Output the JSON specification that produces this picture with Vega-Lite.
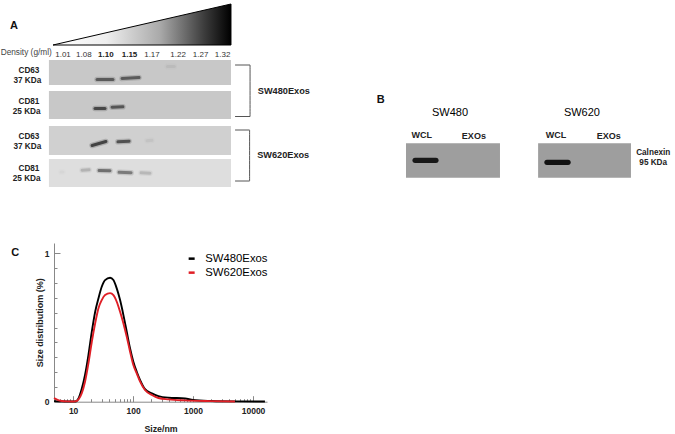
{
"$schema":"https://vega.github.io/schema/vega-lite/v6.json",
"width":675,"height":434,"padding":0,"autosize":{"type":"none"},"background":"white",
"config":{"view":{"stroke":null},"font":"Liberation Sans"},
"datasets":{
"blots":[
{"blot":"SW480 CD63","pos":0.38,"pos2":8.4,"track":0,"track2":2.5,"level":0.2},
{"blot":"SW480 CD81","pos":0.38,"pos2":8.4,"track":3.1,"track2":5.9,"level":0.2},
{"blot":"SW620 CD63","pos":0.38,"pos2":8.4,"track":6.6,"track2":9.5,"level":0.17},
{"blot":"SW620 CD81","pos":0.38,"pos2":8.4,"track":9.9,"track2":12.7,"level":0.12},
{"blot":"SW480 Calnexin","pos":16.11,"pos2":20.25,"track":8.33,"track2":11.77,"level":0.36},
{"blot":"SW620 Calnexin","pos":21.93,"pos2":26.02,"track":8.33,"track2":11.77,"level":0.36}
],
"bands":[
{"band":"a1","pos":2.5,"track":1.95,"level":0.64,"seq":1},{"band":"a1","pos":3.2,"track":1.95,"level":0.64,"seq":2},
{"band":"a2","pos":3.6,"track":1.85,"level":0.64,"seq":1},{"band":"a2","pos":4.35,"track":1.75,"level":0.64,"seq":2},
{"band":"a3","pos":5.6,"track":0.65,"level":0.25,"seq":1},{"band":"a3","pos":5.9,"track":0.65,"level":0.25,"seq":2},
{"band":"b1","pos":2.41,"track":4.85,"level":0.72,"seq":1},{"band":"b1","pos":2.85,"track":4.85,"level":0.72,"seq":2},
{"band":"b2","pos":3.16,"track":4.72,"level":0.66,"seq":1},{"band":"b2","pos":3.64,"track":4.68,"level":0.66,"seq":2},
{"band":"c1","pos":2.28,"track":8.55,"level":0.74,"seq":1},{"band":"c1","pos":2.89,"track":8.15,"level":0.74,"seq":2},
{"band":"c2","pos":3.42,"track":8.18,"level":0.68,"seq":1},{"band":"c2","pos":3.91,"track":8.12,"level":0.68,"seq":2},
{"band":"c3","pos":4.7,"track":8.08,"level":0.22,"seq":1},{"band":"c3","pos":4.92,"track":8.03,"level":0.22,"seq":2},
{"band":"d1","pos":0.91,"track":11.2,"level":0.15,"seq":1},{"band":"d1","pos":1.0,"track":11.2,"level":0.15,"seq":2},
{"band":"d2","pos":1.84,"track":11.02,"level":0.28,"seq":1},{"band":"d2","pos":2.15,"track":10.98,"level":0.28,"seq":2},
{"band":"d3","pos":2.59,"track":11.05,"level":0.55,"seq":1},{"band":"d3","pos":3.07,"track":11.08,"level":0.55,"seq":2},
{"band":"d4","pos":3.47,"track":11.22,"level":0.5,"seq":1},{"band":"d4","pos":4.0,"track":11.28,"level":0.5,"seq":2},
{"band":"d5","pos":4.44,"track":11.28,"level":0.26,"seq":1},{"band":"d5","pos":4.83,"track":11.32,"level":0.26,"seq":2}
],
"bandsB":[
{"band":"e1","pos":16.51,"track":10.03,"level":0.95,"seq":1},{"band":"e1","pos":17.43,"track":10.03,"level":0.95,"seq":2},
{"band":"e2","pos":22.32,"track":10.23,"level":0.98,"seq":1},{"band":"e2","pos":23.25,"track":10.23,"level":0.98,"seq":2}
],
"wedge":[{"pos":0.56,"track":-1.5,"track2":-1.5},{"pos":8.4,"track":-5.6,"track2":-1.5}],
"brackets":[
{"group":"SW480","pos":8.58,"track":0.5,"seq":1},{"group":"SW480","pos":9.24,"track":0.5,"seq":2},{"group":"SW480","pos":9.24,"track":5.65,"seq":3},{"group":"SW480","pos":8.58,"track":5.65,"seq":4},
{"group":"SW620","pos":8.58,"track":7.0,"seq":1},{"group":"SW620","pos":9.22,"track":7.0,"seq":2},{"group":"SW620","pos":9.22,"track":12.1,"seq":3},{"group":"SW620","pos":8.58,"track":12.1,"seq":4}
],
"labels":[
{"kind":"density","t":"1.01","pos":1.0,"track":-0.5},{"kind":"density","t":"1.08","pos":1.92,"track":-0.5},
{"kind":"densityBold","t":"1.10","pos":2.89,"track":-0.5},{"kind":"densityBold","t":"1.15","pos":3.93,"track":-0.5},
{"kind":"density","t":"1.17","pos":4.92,"track":-0.5},{"kind":"density","t":"1.22","pos":6.07,"track":-0.5},
{"kind":"density","t":"1.27","pos":7.06,"track":-0.5},{"kind":"density","t":"1.32","pos":8.03,"track":-0.5},
{"kind":"axisName","t":"Density (g/ml)","pos":-0.62,"track":-0.7},
{"kind":"protein","t":"CD63","pos":-0.5,"track":1.1},{"kind":"protein","t":"37 KDa","pos":-0.57,"track":2.1},
{"kind":"protein","t":"CD81","pos":-0.5,"track":4.2},{"kind":"protein","t":"25 KDa","pos":-0.6,"track":5.2},
{"kind":"protein","t":"CD63","pos":-0.5,"track":7.7},{"kind":"protein","t":"37 KDa","pos":-0.57,"track":8.7},
{"kind":"protein","t":"CD81","pos":-0.5,"track":10.9},{"kind":"protein","t":"25 KDa","pos":-0.6,"track":11.9},
{"kind":"protein","t":"Calnexin","pos":27.0,"track":9.27},{"kind":"protein","t":"95 KDa","pos":27.0,"track":10.27},
{"kind":"series","t":"SW480Exos","pos":10.73,"track":3.1},{"kind":"series","t":"SW620Exos","pos":10.7,"track":9.5},
{"kind":"letter","t":"A","pos":-1.16,"track":-3.4},{"kind":"letter","t":"B","pos":15.0,"track":4.0},{"kind":"letter","t":"C","pos":-1.11,"track":19.3},
{"kind":"cell","t":"SW480","pos":18.05,"track":5.25},{"kind":"cell","t":"SW620","pos":23.86,"track":5.25},
{"kind":"lane","t":"WCL","pos":16.8,"track":7.5},{"kind":"lane","t":"EXOs","pos":19.1,"track":7.6},
{"kind":"lane","t":"WCL","pos":22.72,"track":7.5},{"kind":"lane","t":"EXOs","pos":25.04,"track":7.6}
],
"nta":[
{"s":"SW480Exos","size":4.8,"v":0.004},{"s":"SW480Exos","size":8,"v":0.001},{"s":"SW480Exos","size":10.8,"v":0.001},{"s":"SW480Exos","size":12.3,"v":0.022},{"s":"SW480Exos","size":13.9,"v":0.085},{"s":"SW480Exos","size":15.8,"v":0.18},{"s":"SW480Exos","size":18,"v":0.314},{"s":"SW480Exos","size":20.5,"v":0.472},{"s":"SW480Exos","size":23.3,"v":0.606},{"s":"SW480Exos","size":26.4,"v":0.696},{"s":"SW480Exos","size":30,"v":0.775},{"s":"SW480Exos","size":34.1,"v":0.82},{"s":"SW480Exos","size":41.4,"v":0.836},{"s":"SW480Exos","size":47,"v":0.82},{"s":"SW480Exos","size":53.4,"v":0.764},{"s":"SW480Exos","size":60.7,"v":0.685},{"s":"SW480Exos","size":69,"v":0.584},{"s":"SW480Exos","size":78.4,"v":0.472},{"s":"SW480Exos","size":89.1,"v":0.359},{"s":"SW480Exos","size":101,"v":0.27},{"s":"SW480Exos","size":115,"v":0.202},{"s":"SW480Exos","size":131,"v":0.146},{"s":"SW480Exos","size":158,"v":0.085},{"s":"SW480Exos","size":206,"v":0.056},{"s":"SW480Exos","size":264,"v":0.038},{"s":"SW480Exos","size":389,"v":0.027},{"s":"SW480Exos","size":736,"v":0.022},{"s":"SW480Exos","size":1000,"v":0.011},{"s":"SW480Exos","size":2042,"v":0.005},{"s":"SW480Exos","size":5000,"v":0.002},{"s":"SW480Exos","size":15800,"v":0.001},
{"s":"SW620Exos","size":4.8,"v":0.025},{"s":"SW620Exos","size":5.5,"v":0.013},{"s":"SW620Exos","size":6.5,"v":0.005},{"s":"SW620Exos","size":8,"v":0.002},{"s":"SW620Exos","size":10,"v":0.001},{"s":"SW620Exos","size":10.8,"v":0.002},{"s":"SW620Exos","size":12.3,"v":0.016},{"s":"SW620Exos","size":13.9,"v":0.056},{"s":"SW620Exos","size":15.8,"v":0.135},{"s":"SW620Exos","size":18,"v":0.258},{"s":"SW620Exos","size":20.5,"v":0.404},{"s":"SW620Exos","size":23.3,"v":0.528},{"s":"SW620Exos","size":26.4,"v":0.629},{"s":"SW620Exos","size":30,"v":0.685},{"s":"SW620Exos","size":34.1,"v":0.719},{"s":"SW620Exos","size":41.4,"v":0.732},{"s":"SW620Exos","size":47,"v":0.719},{"s":"SW620Exos","size":53.4,"v":0.674},{"s":"SW620Exos","size":60.7,"v":0.606},{"s":"SW620Exos","size":69,"v":0.528},{"s":"SW620Exos","size":78.4,"v":0.438},{"s":"SW620Exos","size":89.1,"v":0.337},{"s":"SW620Exos","size":101,"v":0.247},{"s":"SW620Exos","size":115,"v":0.191},{"s":"SW620Exos","size":131,"v":0.135},{"s":"SW620Exos","size":158,"v":0.079},{"s":"SW620Exos","size":206,"v":0.045},{"s":"SW620Exos","size":264,"v":0.025},{"s":"SW620Exos","size":389,"v":0.016},{"s":"SW620Exos","size":736,"v":0.009},{"s":"SW620Exos","size":2042,"v":0.004},{"s":"SW620Exos","size":5000,"v":0.001}
]
},
"resolve":{"scale":{"x":"independent","y":"independent","color":"independent"},"axis":{"x":"independent","y":"independent"},"legend":{"color":"independent"}},
"layer":[
{
"encoding":{
"x":{"field":"pos","type":"quantitative","axis":null,"scale":{"domain":[0,10],"range":[40.3,267.3],"nice":false,"zero":false}},
"y":{"field":"track","type":"quantitative","axis":null,"scale":{"domain":[0,13],"range":[60,190],"nice":false,"zero":false}}
},
"layer":[
{"data":{"name":"blots"},"mark":{"type":"rect"},"encoding":{"x2":{"field":"pos2"},"y2":{"field":"track2"},"color":{"field":"level","type":"quantitative","legend":null,"scale":{"domain":[0,1],"range":["#ffffff","#0c0c0c"]}}}},
{"data":{"name":"bands"},"mark":{"type":"line","strokeWidth":5.5,"strokeCap":"round","opacity":0.25},"encoding":{"detail":{"field":"band"},"order":{"field":"seq"},"color":{"field":"level","type":"quantitative","legend":null}}},
{"data":{"name":"bands"},"mark":{"type":"line","strokeWidth":3,"strokeCap":"round"},"encoding":{"detail":{"field":"band"},"order":{"field":"seq"},"color":{"field":"level","type":"quantitative","legend":null}}},
{"data":{"name":"bandsB"},"mark":{"type":"line","strokeWidth":5.2,"strokeCap":"round"},"encoding":{"detail":{"field":"band"},"order":{"field":"seq"},"color":{"field":"level","type":"quantitative","legend":null}}},
{"data":{"name":"wedge"},"mark":{"type":"area","stroke":"#000000","strokeWidth":1,"color":{"gradient":"linear","x1":0,"y1":0,"x2":1,"y2":0,"stops":[{"offset":0,"color":"#ffffff"},{"offset":0.3,"color":"#eeeeee"},{"offset":0.6,"color":"#aaaaaa"},{"offset":0.85,"color":"#3c3c3c"},{"offset":1,"color":"#000000"}]}},"encoding":{"y2":{"field":"track2"}}},
{"data":{"name":"brackets"},"mark":{"type":"line","stroke":"#555555","strokeWidth":1,"interpolate":"monotone"},"encoding":{"detail":{"field":"group"},"order":{"field":"seq"}}},
{"data":{"name":"labels"},"transform":[{"filter":"datum.kind==='density'"}],"mark":{"type":"text","fontSize":8,"fill":"#333333"},"encoding":{"text":{"field":"t"}}},
{"data":{"name":"labels"},"transform":[{"filter":"datum.kind==='densityBold'"}],"mark":{"type":"text","fontSize":8,"fontWeight":"bold","fill":"#222222"},"encoding":{"text":{"field":"t"}}},
{"data":{"name":"labels"},"transform":[{"filter":"datum.kind==='axisName'"}],"mark":{"type":"text","fontSize":8.3,"fill":"#444444"},"encoding":{"text":{"field":"t"}}},
{"data":{"name":"labels"},"transform":[{"filter":"datum.kind==='protein'"}],"mark":{"type":"text","fontSize":8.2,"fontWeight":"bold","fill":"#222222"},"encoding":{"text":{"field":"t"}}},
{"data":{"name":"labels"},"transform":[{"filter":"datum.kind==='series'"}],"mark":{"type":"text","fontSize":9.2,"fontWeight":"bold","fill":"#222222","align":"center"},"encoding":{"text":{"field":"t"}}},
{"data":{"name":"labels"},"transform":[{"filter":"datum.kind==='letter'"}],"mark":{"type":"text","fontSize":11,"fontWeight":"bold","fill":"#111111"},"encoding":{"text":{"field":"t"}}},
{"data":{"name":"labels"},"transform":[{"filter":"datum.kind==='cell'"}],"mark":{"type":"text","fontSize":11,"fill":"#000000"},"encoding":{"text":{"field":"t"}}},
{"data":{"name":"labels"},"transform":[{"filter":"datum.kind==='lane'"}],"mark":{"type":"text","fontSize":9,"fontWeight":"bold","fill":"#222222"},"encoding":{"text":{"field":"t"}}}
]
},
{
"data":{"name":"nta"},
"resolve":{"axis":{"x":"independent","y":"independent"}},
"layer":[
{"mark":{"type":"line","opacity":0},
"encoding":{
"x":{"field":"size","type":"quantitative","scale":{"type":"log","domain":[4.8,17100],"range":[54,267],"nice":false},
"axis":{"orient":"bottom","offset":-32.3,"title":null,"labels":false,"domain":false,"tickSize":-3,"tickColor":"#888888","grid":false,"values":[5,6,7,8,9,20,30,40,50,60,70,80,90,200,300,400,500,600,700,800,900,2000,3000,4000,5000,6000,7000,8000,9000]}},
"y":{"field":"v","type":"quantitative","scale":{"domain":[0,1.07],"range":[401.7,243],"nice":false,"zero":false},
"axis":{"orient":"left","offset":-54,"title":null,"labels":false,"domain":false,"tickSize":-3,"tickColor":"#888888","grid":false,"values":[0.1,0.2,0.3,0.4,0.5,0.6,0.7,0.8,0.9]}}
}},
{"mark":{"type":"line","strokeWidth":1.9,"interpolate":"monotone"},
"encoding":{
"x":{"field":"size","type":"quantitative","axis":{"orient":"bottom","offset":-32.3,"title":"Size/nm","titleFont":"Liberation Sans","titleFontSize":8.8,"titleFontWeight":"bold","titleColor":"#222222","titlePadding":9,"values":[10,100,1000,10000],"format":"d","labelFont":"Liberation Sans","labelFontSize":8.5,"labelFontWeight":"bold","labelColor":"#222222","labelPadding":11,"tickSize":-6,"tickColor":"#888888","domainColor":"#888888","grid":false,"labelFlush":false}},
"y":{"field":"v","type":"quantitative","axis":{"orient":"left","offset":-54,"title":"Size distributiom (%)","titleFont":"Liberation Sans","titleFontSize":9,"titleFontWeight":"bold","titleColor":"#222222","titlePadding":0,"values":[0,1],"format":"d","labelFont":"Liberation Sans","labelFontSize":8.5,"labelFontWeight":"bold","labelColor":"#222222","labelPadding":11,"tickSize":-6,"tickColor":"#888888","domainColor":"#888888","grid":false}},
"color":{"field":"s","type":"nominal","title":null,"scale":{"domain":["SW480Exos","SW620Exos"],"range":["#000000","#e01f26"]},
"legend":{"orient":"none","legendX":186,"legendY":253,"symbolType":"stroke","symbolSize":36,"symbolStrokeWidth":2.5,"labelFont":"Liberation Sans","labelFontSize":11.3,"labelColor":"#000000","rowPadding":2,"labelOffset":8}}
}}
]
}
]
}
